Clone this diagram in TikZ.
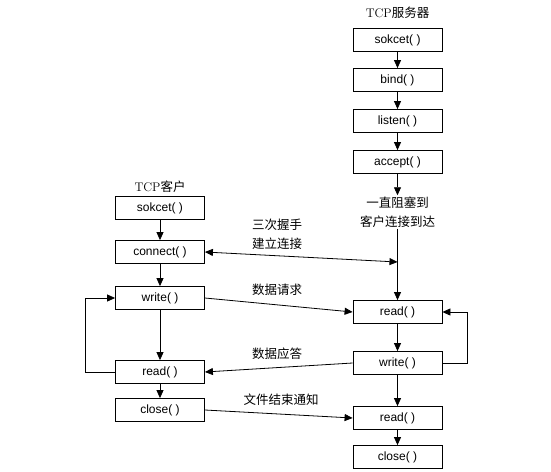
\documentclass[tikz,border=0pt]{standalone}
\usepackage{fontspec}
\setsansfont{Liberation Sans}
\newfontfamily\cjk{Noto Sans CJK SC}
\usetikzlibrary{arrows.meta,positioning}

\begin{document}
\begin{tikzpicture}[x=1pt,y=-1pt,
  func/.style={draw,line width=0.8pt,minimum width=89pt,minimum height=23pt,inner sep=0pt,font=\sffamily\fontsize{12}{14}\selectfont},
  note/.style={font=\cjk\fontsize{12.5}{19}\selectfont,align=center,inner sep=1pt},
  title/.style={font=\fontsize{12.5}{14}\selectfont},
  flow/.style={line width=0.8pt,-{Triangle[length=8pt,width=7pt]}},
  every path/.style={line width=0.8pt}]
\useasboundingbox (0,0) rectangle (551,471);
\node[title] (stitle) at (397.5,13) {TCP{\cjk 服务器}};
\node[func] (ssocket) at (397.5,40) {sokcet( )};
\node[func] (sbind) at (397.5,80) {bind( )};
\node[func] (slisten) at (397.5,121) {listen( )};
\node[func] (saccept) at (397.5,162) {accept( )};
\node[note] (swait) at (397.5,212) {一直阻塞到\\客户连接到达};
\node[func] (sread) at (397.5,312) {read( )};
\node[func] (swrite) at (397.5,363) {write( )};
\node[func] (sread2) at (397.5,418) {read( )};
\node[func] (sclose) at (397.5,457) {close( )};
\coordinate (sconn) at (397.5,262);
\node[title] (ctitle) at (160,187) {TCP{\cjk 客户}};
\node[func] (csocket) at (160,208) {sokcet( )};
\node[func] (cconnect) at (160,252) {connect( )};
\node[func] (cwrite) at (160,298) {write( )};
\node[func] (cread) at (160,372) {read( )};
\node[func] (cclose) at (160,410) {close( )};
\node[note] (lshake) at (277,234) {三次握手\\建立连接};
\node[note] (lreq) at (277,290) {数据请求};
\node[note] (lresp) at (277,354) {数据应答};
\node[note] (lfin) at (281,400) {文件结束通知};
\draw[flow] (ssocket) -- (sbind);
\draw[flow] (sbind) -- (slisten);
\draw[flow] (slisten) -- (saccept);
\draw[flow] (saccept) -- (swait);
\draw[flow] (swait) -- (sread);
\draw[flow] (sread) -- (swrite);
\draw[flow] (swrite) -- (sread2);
\draw[flow] (sread2) -- (sclose);
\draw[flow] (swrite.east) -- ++(25,0) |- (sread.east);
\draw[flow] (csocket) -- (cconnect);
\draw[flow] (cconnect) -- (cwrite);
\draw[flow] (cwrite) -- (cread);
\draw[flow] (cread) -- (cclose);
\draw[flow] (cread.west) -- ++(-30,0) |- (cwrite.west);
\draw[flow,{Triangle[length=8pt,width=7pt]}-{Triangle[length=8pt,width=7pt]}] (cconnect.east) -- (sconn);
\draw[flow] (cwrite.east) -- (sread.west);
\draw[flow] (swrite.west) -- (cread.east);
\draw[flow] (cclose.east) -- (sread2.west);
\end{tikzpicture}
\end{document}
